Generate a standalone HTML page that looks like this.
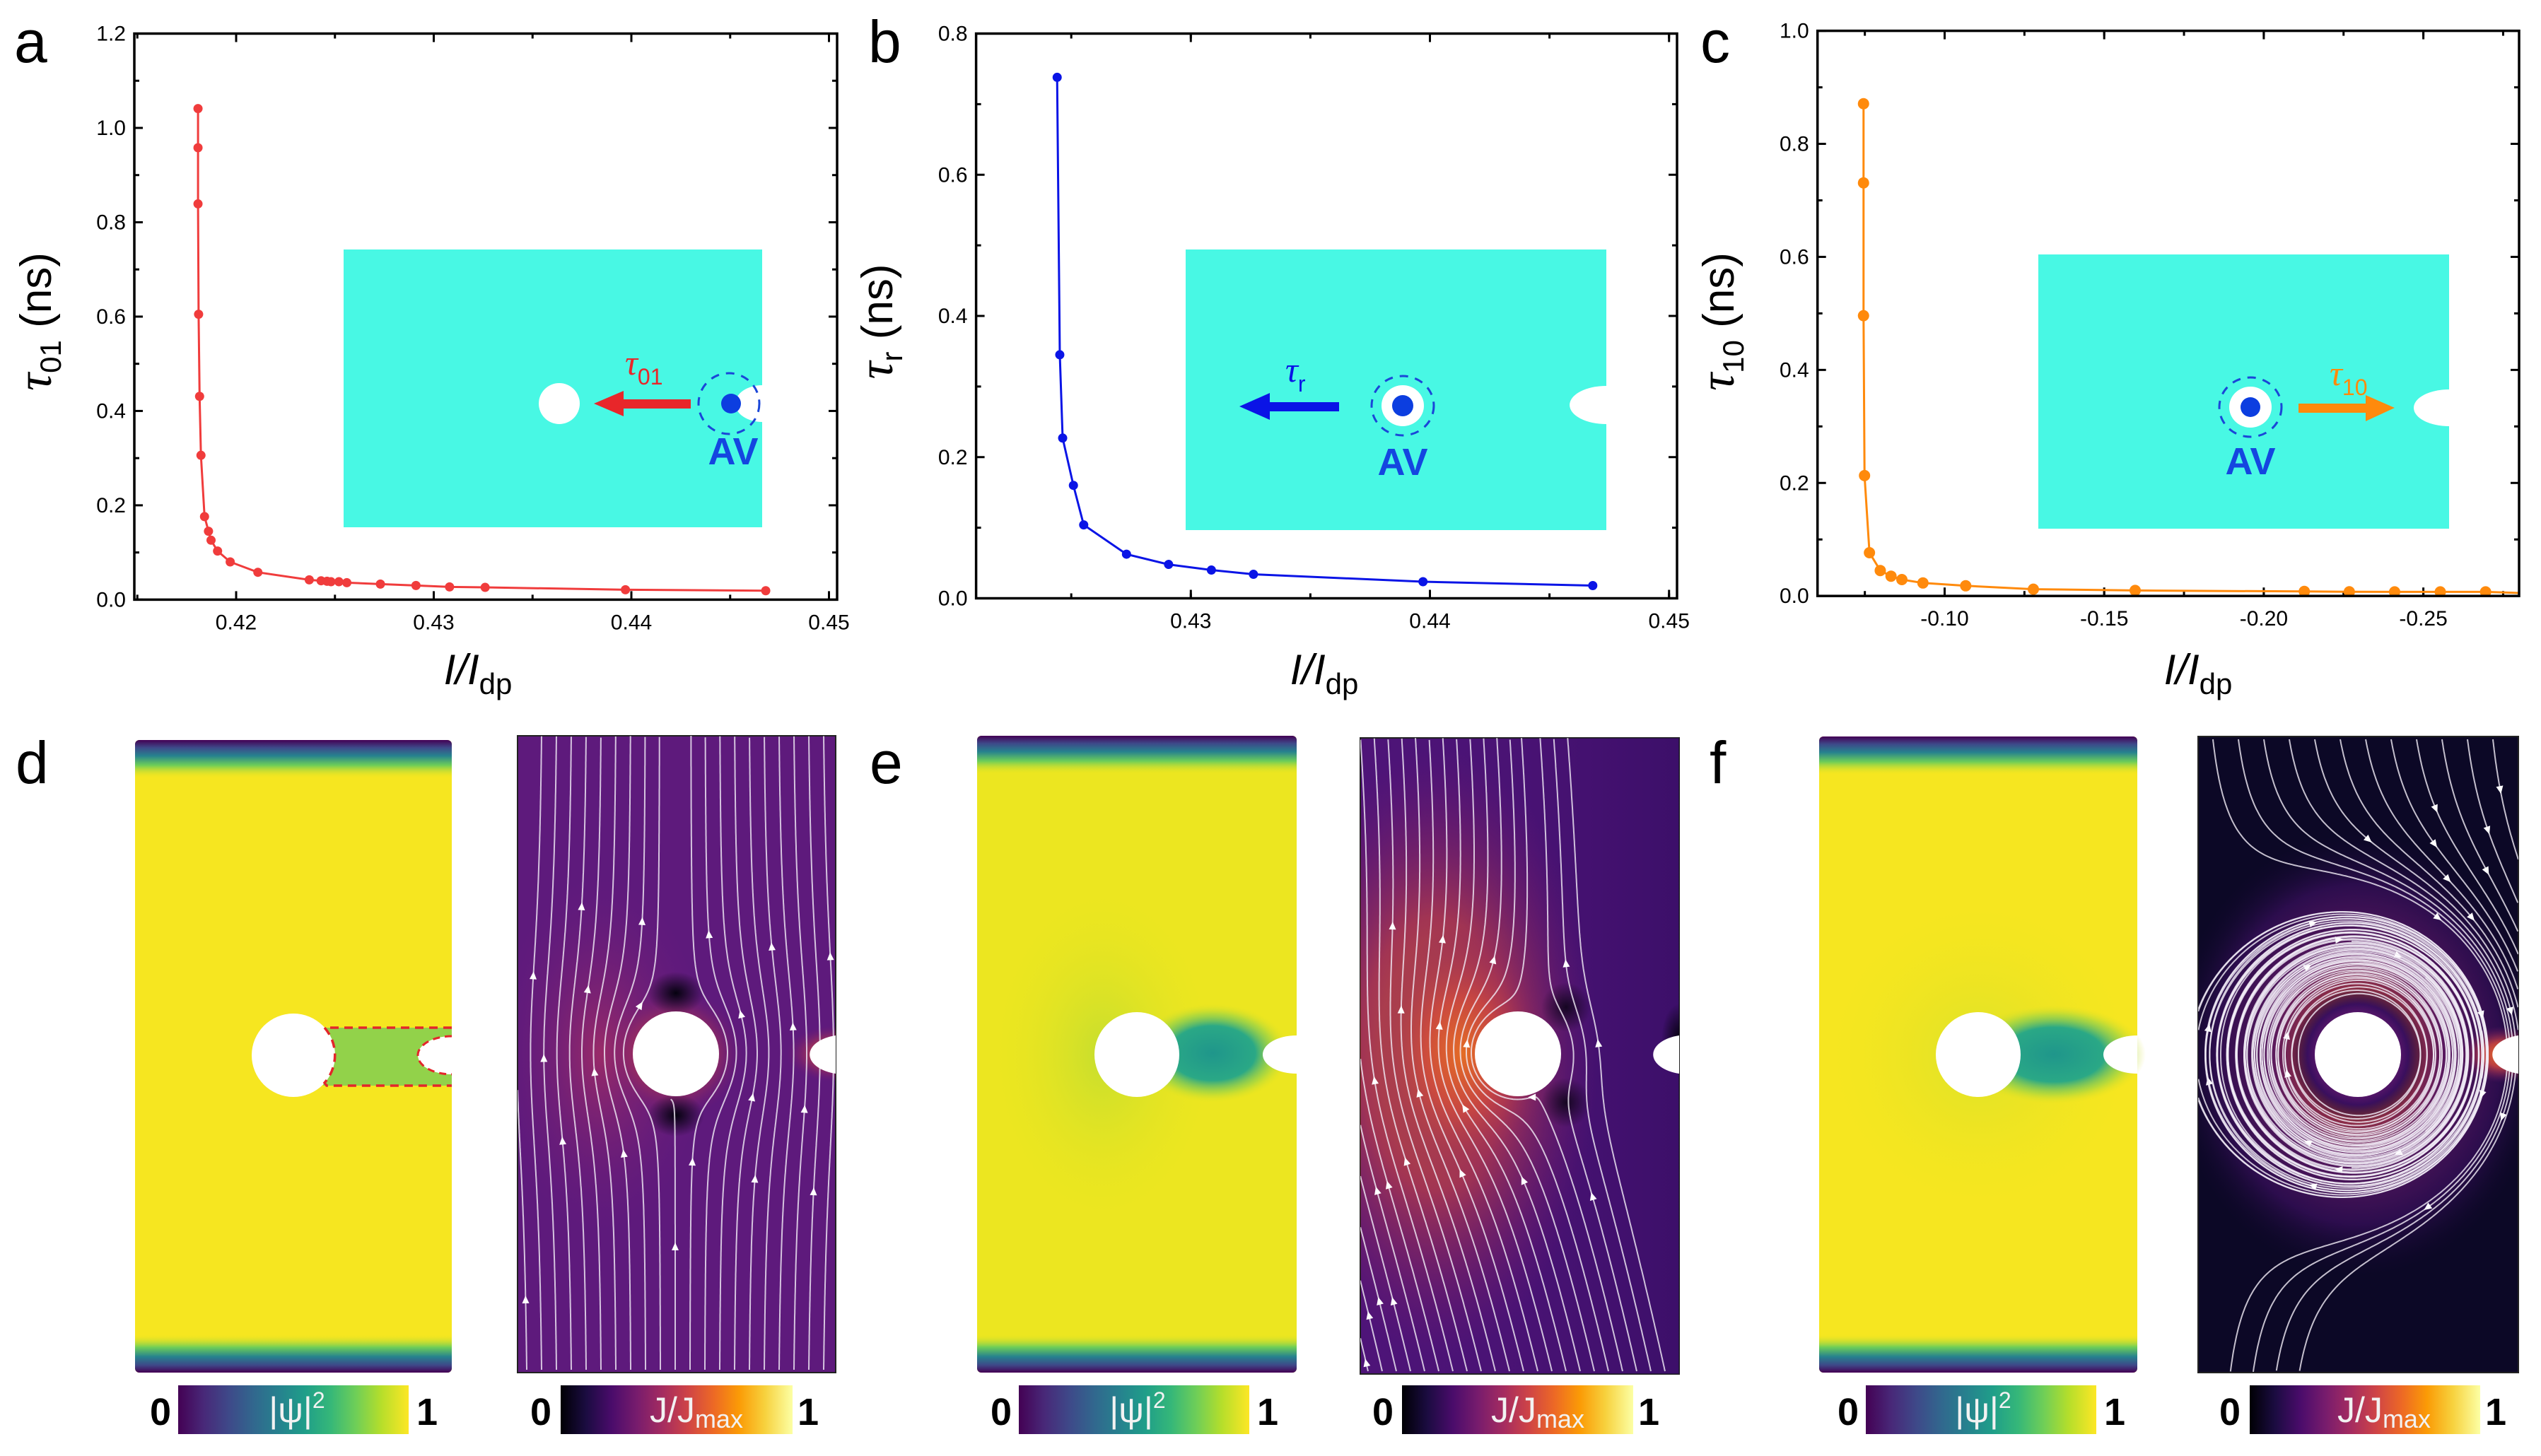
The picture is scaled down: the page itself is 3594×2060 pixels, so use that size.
<!DOCTYPE html>
<html><head><meta charset="utf-8"><style>
html,body{margin:0;padding:0;background:#fff;}
svg{display:block;font-family:"Liberation Sans",sans-serif;}
</style></head><body>
<svg id="fig" width="3594" height="2060" viewBox="0 0 3594 2060" xmlns="http://www.w3.org/2000/svg">
<defs>
<linearGradient id="viridis" x1="0" x2="1" y1="0" y2="0">
<stop offset="0" stop-color="#440154"/><stop offset="0.11" stop-color="#482878"/><stop offset="0.22" stop-color="#3e4989"/><stop offset="0.33" stop-color="#31688e"/><stop offset="0.44" stop-color="#26828e"/><stop offset="0.55" stop-color="#1f9e89"/><stop offset="0.66" stop-color="#35b779"/><stop offset="0.77" stop-color="#6ece58"/><stop offset="0.88" stop-color="#b5de2b"/><stop offset="1" stop-color="#fde725"/>
</linearGradient>
<linearGradient id="inferno" x1="0" x2="1" y1="0" y2="0">
<stop offset="0" stop-color="#000004"/><stop offset="0.11" stop-color="#1b0c41"/><stop offset="0.22" stop-color="#4a0c6b"/><stop offset="0.33" stop-color="#781c6d"/><stop offset="0.44" stop-color="#a52c60"/><stop offset="0.55" stop-color="#cf4446"/><stop offset="0.66" stop-color="#ed6925"/><stop offset="0.77" stop-color="#fb9b06"/><stop offset="0.88" stop-color="#f7d13d"/><stop offset="1" stop-color="#fcffa4"/>
</linearGradient>
<linearGradient id="psiEdge" x1="0" x2="0" y1="0" y2="1">
<stop offset="0" stop-color="#440154"/><stop offset="0.012" stop-color="#3e4989"/><stop offset="0.025" stop-color="#26828e"/><stop offset="0.04" stop-color="#6ece58"/><stop offset="0.06" stop-color="#e8e420" stop-opacity="0"/>
<stop offset="0.94" stop-color="#e8e420" stop-opacity="0"/><stop offset="0.96" stop-color="#6ece58"/><stop offset="0.975" stop-color="#26828e"/><stop offset="0.988" stop-color="#3e4989"/><stop offset="1" stop-color="#440154"/>
</linearGradient>
<linearGradient id="eShade" x1="0" x2="1" y1="0" y2="0">
<stop offset="0" stop-color="#2e0b5e" stop-opacity="0"/><stop offset="0.5" stop-color="#2e0b5e" stop-opacity="0.15"/><stop offset="1" stop-color="#2e0b5e" stop-opacity="0.55"/>
</linearGradient>
<radialGradient id="tealBlob"><stop offset="0" stop-color="#1f968b"/><stop offset="0.55" stop-color="#2aa886"/><stop offset="0.8" stop-color="#8fd14a" stop-opacity="0.6"/><stop offset="1" stop-color="#e0e222" stop-opacity="0"/></radialGradient>
<radialGradient id="greenGlow"><stop offset="0" stop-color="#9fd63c"/><stop offset="1" stop-color="#e6e41f" stop-opacity="0"/></radialGradient>
<radialGradient id="orangeGlow"><stop offset="0" stop-color="#f0751e"/><stop offset="0.45" stop-color="#d2473f" stop-opacity="0.85"/><stop offset="1" stop-color="#7a1a6e" stop-opacity="0"/></radialGradient>
<radialGradient id="redGlowD"><stop offset="0" stop-color="#c2365a"/><stop offset="1" stop-color="#6a1c7e" stop-opacity="0"/></radialGradient>
<radialGradient id="darkSpot"><stop offset="0" stop-color="#05020f"/><stop offset="1" stop-color="#05020f" stop-opacity="0"/></radialGradient>
<radialGradient id="fGlow"><stop offset="0" stop-color="#ff8a1a"/><stop offset="0.3" stop-color="#c43d55"/><stop offset="0.45" stop-color="#7a1f76"/><stop offset="0.75" stop-color="#3a0f5e"/><stop offset="1" stop-color="#0c0826" stop-opacity="0"/></radialGradient>
<clipPath id="clipA"><rect x="190" y="47" width="994" height="802"/></clipPath>
<clipPath id="clipB"><rect x="1380" y="47" width="992" height="800"/></clipPath>
<clipPath id="clipC"><rect x="2570" y="43" width="993" height="800"/></clipPath>
<clipPath id="clipDJ"><rect x="732" y="1041" width="450" height="901"/></clipPath>
<clipPath id="clipEJ"><rect x="1924" y="1044" width="451" height="900"/></clipPath>
<clipPath id="clipFJ"><rect x="3109" y="1042" width="453" height="900"/></clipPath>
</defs>

<text x="20" y="88" font-size="84">a</text>
<text x="1228" y="88" font-size="84">b</text>
<text x="2405" y="88" font-size="84">c</text>
<text x="22" y="1108" font-size="84">d</text>
<text x="1230" y="1108" font-size="84">e</text>
<text x="2418" y="1108" font-size="84">f</text>

<g>
<rect x="486" y="353" width="592" height="393" fill="#48f8e4"/>
<path d="M1078,545 A38,26 0 0 0 1078,597 Z" fill="#fff"/>
<ellipse cx="791" cy="571" rx="29" ry="29" fill="#fff"/>
<rect x="880" y="565" width="97" height="13" fill="#e8262a"/>
<polygon points="840,571 882,553 882,589" fill="#e8262a"/>
<text x="884" y="530" font-size="50" fill="#e8262a" font-family="Liberation Serif,serif" font-style="italic">τ<tspan font-size="32" dy="14" font-family="Liberation Sans,sans-serif" font-style="normal">01</tspan></text>
<circle cx="1031" cy="571" r="43" fill="none" stroke="#1a46d8" stroke-width="3" stroke-dasharray="12 10"/>
<circle cx="1034" cy="571" r="14" fill="#0c3ee0"/>
<text x="1037" y="657" font-size="54" font-weight="bold" fill="#1446e0" text-anchor="middle">AV</text>
</g>
<g>
<rect x="1677" y="353" width="595" height="397" fill="#48f8e4"/>
<path d="M2272,546 A50,26 0 0 0 2272,600 Z" fill="#fff"/>
<rect x="1795" y="569" width="99" height="13" fill="#0a14e6"/>
<polygon points="1753,575 1796,556 1796,594" fill="#0a14e6"/>
<text x="1818" y="540" font-size="50" fill="#0a14e6" font-family="Liberation Serif,serif" font-style="italic">τ<tspan font-size="32" dy="14" font-family="Liberation Sans,sans-serif" font-style="normal">r</tspan></text>
<ellipse cx="1984" cy="574" rx="44" ry="42" fill="none" stroke="#1a46d8" stroke-width="3" stroke-dasharray="12 10"/>
<ellipse cx="1984" cy="574" rx="30" ry="29" fill="#fff"/>
<circle cx="1984" cy="574" r="15" fill="#0c3ee0"/>
<text x="1984" y="672" font-size="54" font-weight="bold" fill="#1446e0" text-anchor="middle">AV</text>
</g>
<g>
<rect x="2883" y="360" width="581" height="388" fill="#48f8e4"/>
<path d="M3464,551 A50,26 0 0 0 3464,603 Z" fill="#fff"/>
<rect x="3251" y="571" width="97" height="13" fill="#ff8a0c"/>
<polygon points="3387,577 3346,559 3346,596" fill="#ff8a0c"/>
<text x="3295" y="545" font-size="50" fill="#ff8a0c" font-family="Liberation Serif,serif" font-style="italic">τ<tspan font-size="32" dy="14" font-family="Liberation Sans,sans-serif" font-style="normal">10</tspan></text>
<ellipse cx="3183" cy="576" rx="44" ry="42" fill="none" stroke="#1a46d8" stroke-width="3" stroke-dasharray="12 10"/>
<ellipse cx="3183" cy="576" rx="30" ry="29" fill="#fff"/>
<circle cx="3183" cy="576" r="14" fill="#0c3ee0"/>
<text x="3183" y="671" font-size="54" font-weight="bold" fill="#1446e0" text-anchor="middle">AV</text>
</g>

<g id="charts"></g>

<g>
<rect x="191" y="1047" width="448" height="895" rx="6" fill="#f6e620"/>
<rect x="191" y="1047" width="448" height="895" rx="6" fill="url(#psiEdge)"/>
<rect x="457" y="1454" width="182" height="82" fill="#92d24a"/>
<circle cx="415" cy="1493" r="59" fill="#fff"/>
<path d="M639,1466 A48,27 0 0 0 639,1520 Z" fill="#fff"/>
<path d="M639,1454 L459,1454 A59,59 0 0 1 459,1532 L462,1536 L639,1536" fill="none" stroke="#e3262a" stroke-width="3.5" stroke-dasharray="12 8"/>
<path d="M639,1466 A48,27 0 0 0 639,1520" fill="none" stroke="#e3262a" stroke-width="3" stroke-dasharray="10 7"/>
</g>
<g>
<rect x="1382" y="1041" width="452" height="901" rx="6" fill="#ece620"/>
<ellipse cx="1560" cy="1492" rx="160" ry="240" fill="url(#greenGlow)" opacity="0.5"/>
<ellipse cx="1715" cy="1490" rx="110" ry="70" fill="url(#tealBlob)"/>
<rect x="1382" y="1041" width="452" height="901" rx="6" fill="url(#psiEdge)"/>
<ellipse cx="1608" cy="1492" rx="60" ry="60" fill="#fff"/>
<path d="M1834,1465 A48,27 0 0 0 1834,1519 Z" fill="#fff"/>
</g>
<g>
<rect x="2573" y="1042" width="450" height="900" rx="6" fill="#f6e620"/>
<ellipse cx="2800" cy="1492" rx="220" ry="220" fill="url(#greenGlow)" opacity="0.3"/>
<ellipse cx="2905" cy="1492" rx="130" ry="70" fill="url(#tealBlob)"/>
<rect x="2573" y="1042" width="450" height="900" rx="6" fill="url(#psiEdge)"/>
<ellipse cx="2798" cy="1492" rx="60" ry="60" fill="#fff"/>
<path d="M3023,1465 A48,27 0 0 0 3023,1519 Z" fill="#fff"/>
</g>

<g>
<rect x="732" y="1041" width="450" height="901" fill="#5e1a7c" stroke="#222" stroke-width="2"/>
<g clip-path="url(#clipDJ)">
<ellipse cx="850" cy="1491" rx="150" ry="260" fill="url(#redGlowD)" opacity="0.6"/>
<ellipse cx="956" cy="1491" rx="95" ry="90" fill="url(#orangeGlow)" opacity="0.8"/>
<ellipse cx="956" cy="1405" rx="40" ry="30" fill="url(#darkSpot)"/>
<ellipse cx="956" cy="1578" rx="40" ry="30" fill="url(#darkSpot)"/>
<ellipse cx="1182" cy="1491" rx="70" ry="40" fill="url(#orangeGlow)" opacity="0.8"/>
<g id="slD"></g>
</g>
<ellipse cx="956" cy="1491" rx="61" ry="60" fill="#fff"/>
<path d="M1182,1465 A50,28 0 0 0 1182,1519 Z" fill="#fff"/>
</g>
<g>
<rect x="1924" y="1044" width="451" height="900" fill="#4e1478" stroke="#222" stroke-width="2"/>
<g clip-path="url(#clipEJ)">
<rect x="1924" y="1044" width="451" height="900" fill="url(#eShade)"/>
<ellipse cx="2030" cy="1491" rx="230" ry="430" fill="url(#orangeGlow)" opacity="0.75"/>
<ellipse cx="2070" cy="1491" rx="120" ry="180" fill="url(#orangeGlow)" opacity="0.8"/>
<ellipse cx="2215" cy="1425" rx="35" ry="35" fill="url(#darkSpot)" opacity="0.8"/>
<ellipse cx="2215" cy="1560" rx="35" ry="35" fill="url(#darkSpot)" opacity="0.8"/>
<ellipse cx="2375" cy="1470" rx="25" ry="50" fill="url(#darkSpot)"/>
<g id="slE"></g>
</g>
<ellipse cx="2147" cy="1491" rx="61" ry="60" fill="#fff"/>
<path d="M2375,1465 A50,28 0 0 0 2375,1519 Z" fill="#fff"/>
</g>
<g>
<rect x="3109" y="1042" width="453" height="900" fill="#0c0826" stroke="#222" stroke-width="2"/>
<g clip-path="url(#clipFJ)">
<ellipse cx="3335" cy="1492" rx="270" ry="320" fill="url(#fGlow)" opacity="0.7"/>
<ellipse cx="3335" cy="1492" rx="95" ry="95" fill="url(#fGlow)"/>
<ellipse cx="3540" cy="1492" rx="60" ry="40" fill="url(#orangeGlow)"/>
<g id="slF"></g>
</g>
<ellipse cx="3335" cy="1492" rx="61" ry="60" fill="#fff"/>
<path d="M3562,1465 A50,28 0 0 0 3562,1519 Z" fill="#fff"/>
</g>

<g>
<rect x="252" y="1960" width="326" height="69" fill="url(#viridis)"/>
<text x="227" y="2016" font-size="54" font-weight="bold" text-anchor="middle">0</text>
<text x="604" y="2016" font-size="54" font-weight="bold" text-anchor="middle">1</text>
<text x="420" y="2012" font-size="50" fill="#f2f2f2" text-anchor="middle">|ψ|<tspan font-size="32" dy="-20">2</tspan></text>
</g>
<g>
<rect x="793" y="1960" width="328" height="69" fill="url(#inferno)"/>
<text x="765" y="2016" font-size="54" font-weight="bold" text-anchor="middle">0</text>
<text x="1143" y="2016" font-size="54" font-weight="bold" text-anchor="middle">1</text>
<text x="985" y="2012" font-size="50" fill="#f2f2f2" text-anchor="middle">J/J<tspan font-size="36" dy="8">max</tspan></text>
</g>
<g>
<rect x="1441" y="1960" width="326" height="69" fill="url(#viridis)"/>
<text x="1416" y="2016" font-size="54" font-weight="bold" text-anchor="middle">0</text>
<text x="1793" y="2016" font-size="54" font-weight="bold" text-anchor="middle">1</text>
<text x="1609" y="2012" font-size="50" fill="#f2f2f2" text-anchor="middle">|ψ|<tspan font-size="32" dy="-20">2</tspan></text>
</g>
<g>
<rect x="1983" y="1960" width="327" height="69" fill="url(#inferno)"/>
<text x="1956" y="2016" font-size="54" font-weight="bold" text-anchor="middle">0</text>
<text x="2332" y="2016" font-size="54" font-weight="bold" text-anchor="middle">1</text>
<text x="2175" y="2012" font-size="50" fill="#f2f2f2" text-anchor="middle">J/J<tspan font-size="36" dy="8">max</tspan></text>
</g>
<g>
<rect x="2639" y="1960" width="326" height="69" fill="url(#viridis)"/>
<text x="2614" y="2016" font-size="54" font-weight="bold" text-anchor="middle">0</text>
<text x="2991" y="2016" font-size="54" font-weight="bold" text-anchor="middle">1</text>
<text x="2805" y="2012" font-size="50" fill="#f2f2f2" text-anchor="middle">|ψ|<tspan font-size="32" dy="-20">2</tspan></text>
</g>
<g>
<rect x="3182" y="1960" width="326" height="69" fill="url(#inferno)"/>
<text x="3154" y="2016" font-size="54" font-weight="bold" text-anchor="middle">0</text>
<text x="3530" y="2016" font-size="54" font-weight="bold" text-anchor="middle">1</text>
<text x="3372" y="2012" font-size="50" fill="#f2f2f2" text-anchor="middle">J/J<tspan font-size="36" dy="8">max</tspan></text>
</g>
</svg>
<script>
// ---- chart data ----
const xA = [0.41807,0.41807,0.41807,0.41810,0.41815,0.41822,0.4184,0.4186,0.41873,0.41906,0.4197,0.4211,0.4237,0.4243,0.4246,0.4248,0.4252,0.4256,0.4273,0.4291,0.4308,0.4326,0.4397,0.4468];
const yA = [1.041,0.958,0.839,0.605,0.431,0.306,0.176,0.145,0.126,0.103,0.080,0.058,0.042,0.040,0.039,0.038,0.038,0.036,0.033,0.030,0.027,0.026,0.021,0.019];
const xB = [0.42441,0.42452,0.42464,0.42509,0.42552,0.42731,0.42907,0.43086,0.43262,0.43971,0.44681];
const yB = [0.738,0.345,0.227,0.160,0.104,0.0625,0.048,0.040,0.034,0.0235,0.018];
const xC = [-0.07458,-0.07458,-0.07458,-0.0749,-0.07644,-0.07983,-0.0832,-0.0866,-0.0932,-0.1066,-0.1278,-0.1597,-0.2127,-0.2268,-0.241,-0.2553,-0.2695];
const yC = [0.871,0.731,0.496,0.213,0.0765,0.045,0.035,0.029,0.023,0.018,0.012,0.0098,0.008,0.0074,0.0073,0.0073,0.0073];
const yTicksA = ["0.0","0.2","0.4","0.6","0.8","1.0","1.2"];
const yTicksB = ["0.0","0.2","0.4","0.6","0.8"];
const yTicksC = ["0.0","0.2","0.4","0.6","0.8","1.0"];
const xTicksA = ["0.42","0.43","0.44","0.45"];
const xTicksB = ["0.43","0.44","0.45"];
const xTicksC = ["-0.10","-0.15","-0.20","-0.25"];

const NS="http://www.w3.org/2000/svg";
function el(tag,attrs,parent){const e=document.createElementNS(NS,tag);for(const k in attrs)e.setAttribute(k,attrs[k]);if(parent)parent.appendChild(e);return e;}
const charts=document.getElementById('charts');

function drawChart(cfg){
  const g=el('g',{},charts);
  
  
  const L=cfg.L,R=cfg.R,T=cfg.T,B=cfg.B;
  const sx=cfg.sx, sy=cfg.sy;
  for(let v=cfg.yMin; v<=cfg.yMax+1e-9; v+=cfg.yMinor){
    const y=sy(v); const major=Math.abs(Math.round(v/cfg.yMajor)*cfg.yMajor-v)<1e-6;
    const len=major?12:7;
    el('line',{x1:L,x2:L+len,y1:y,y2:y,stroke:'#000','stroke-width':3},g);
    el('line',{x1:R,x2:R-len,y1:y,y2:y,stroke:'#000','stroke-width':3},g);
  }
  cfg.yTicks.forEach(t=>{const v=parseFloat(t);const tx=el('text',{x:L-12,y:sy(v)+10,'font-size':30,'text-anchor':'end'},g);tx.textContent=t;
    
    });
  cfg.xMinorVals.forEach(v=>{const x=sx(v);if(x<L||x>R)return;
    el('line',{x1:x,x2:x,y1:B,y2:B-7,stroke:'#000','stroke-width':3},g);
    el('line',{x1:x,x2:x,y1:T,y2:T+7,stroke:'#000','stroke-width':3},g);});
  cfg.xTicks.forEach(t=>{const v=parseFloat(t);const x=sx(v);
    el('line',{x1:x,x2:x,y1:B,y2:B-12,stroke:'#000','stroke-width':3},g);
    el('line',{x1:x,x2:x,y1:T,y2:T+12,stroke:'#000','stroke-width':3},g);
    const tx=el('text',{x:x,y:B+42,'font-size':30,'text-anchor':'middle'},g);tx.textContent=t;
    
    });
  const sg=el('g',{'clip-path':cfg.clip},g);
  
  
  let d='';cfg.xs.forEach((v,i)=>{d+=(i?'L':'M')+sx(v).toFixed(1)+','+sy(cfg.ys[i]).toFixed(1);});
  if(cfg.extend){d+='L'+R+','+sy(cfg.ys[cfg.ys.length-1]-0.002).toFixed(1);}
  el('path',{d:d,fill:'none',stroke:cfg.color,'stroke-width':3},sg);
  cfg.xs.forEach((v,i)=>{const c=el('circle',{cx:sx(v),cy:sy(cfg.ys[i]),r:cfg.r,fill:cfg.color},sg);
    
    });
  el('rect',{x:L,y:T,width:R-L,height:B-T,fill:'none',stroke:'#000','stroke-width':3.5},g);
  const yt=el('text',{transform:`translate(${cfg.ytx},${cfg.yty}) rotate(-90)`,'font-size':62,'text-anchor':'middle'},g);
  yt.innerHTML='<tspan font-family="Liberation Serif,serif" font-style="italic" font-size="70">τ</tspan><tspan font-size="42" dy="14">'+cfg.sub+'</tspan><tspan dy="-14"> (ns)</tspan>';
  
  
  const xt=el('text',{x:cfg.xtx,y:968,'font-size':60,'text-anchor':'middle','font-style':'italic'},g);
  xt.innerHTML='I/I<tspan font-size="42" dy="14" font-style="normal">dp</tspan>';
  
  
}
function range(a,b,s){const r=[];for(let v=a;v<=b+1e-9;v+=s)r.push(v);return r;}

drawChart({name:'chart-a',L:190,R:1184,T:47.5,B:848.4,
  sx:v=>334+(v-0.42)*27950, sy:v=>848.4-v/1.2*800.9,
  yMin:0,yMax:1.2,yMajor:0.2,yMinor:0.1,yTicks:yTicksA,xTicks:xTicksA,xMinorVals:range(0.415,0.45,0.005),
  xs:xA,ys:yA,color:'#f03c3c',r:6.5,clip:'url(#clipA)',sub:'01',ytx:72,yty:455,xtx:676});
drawChart({name:'chart-b',L:1380.6,R:2372,T:47.5,B:846.5,
  sx:v=>1684.3+(v-0.43)*33820, sy:v=>846.5-v/0.8*799,
  yMin:0,yMax:0.8,yMajor:0.2,yMinor:0.1,yTicks:yTicksB,xTicks:xTicksB,xMinorVals:range(0.425,0.45,0.005),
  xs:xB,ys:yB,color:'#0a14e6',r:6.5,clip:'url(#clipB)',sub:'r',ytx:1262,yty:455,xtx:1873});
drawChart({name:'chart-c',L:2570.7,R:3563,T:43.6,B:843.2,
  sx:v=>2750.5+(-0.10-v)/0.05*225.7, sy:v=>843.2-v*799.6,
  yMin:0,yMax:1.0,yMajor:0.2,yMinor:0.1,yTicks:yTicksC,xTicks:xTicksC,xMinorVals:range(0.075,0.275,0.025).map(v=>-v),
  xs:xC,ys:yC,color:'#ff8a0c',r:8,clip:'url(#clipC)',sub:'10',ytx:2452,yty:455,xtx:3109,extend:true});

// ---- streamlines ----
function streams(gid,box,cx,cy,R,field,seeds,maxSteps,closed){
  const g=document.getElementById(gid);
  seeds.forEach((s,si)=>{
    [1,-1].forEach(dir=>{
      if(s.dirs && s.dirs.indexOf(dir)<0) return;
      let x=s[0],y=s[1];const pts=[[x,y]];
      for(let k=0;k<maxSteps;k++){
        let [u,v]=field(x-cx,y-cy);const m=Math.hypot(u,v)||1;
        x+=dir*3*u/m;y+=dir*3*v/m;
        if(x<box[0]||x>box[2]||y<box[1]||y>box[3])break;
        if(Math.hypot(x-cx,y-cy)<R+3)break;
        pts.push([x,y]);
        if(closed&&k>60&&Math.hypot(x-s[0],y-s[1])<3)break;
      }
      if(pts.length<5)return;
      const p=el('polyline',{points:pts.map(q=>q[0].toFixed(1)+','+q[1].toFixed(1)).join(' '),fill:'none',stroke:'#f2eef8','stroke-width':2,'stroke-opacity':0.8},g);
      
      
      const idx=Math.floor(pts.length*(0.25+((si*37)%50)/100));
      if(idx>2&&idx<pts.length-1){
        const a=pts[idx],b=pts[idx-2];
        let dx=(a[0]-b[0])*dir,dy=(a[1]-b[1])*dir;const m=Math.hypot(dx,dy)||1;dx/=m;dy/=m;
        const tip=[a[0]+dx*6,a[1]+dy*6],l=[a[0]-dx*5-dy*5,a[1]-dy*5+dx*5],r2=[a[0]-dx*5+dy*5,a[1]-dy*5-dx*5];
        const t=el('polygon',{points:[tip,l,r2].map(q=>q[0].toFixed(1)+','+q[1].toFixed(1)).join(' '),fill:'#fff'},g);
        
        
      }
    });
  });
}
function cyl(dx,dy,ux,uy,U,R){const r2=dx*dx+dy*dy;const dr=ux*dx+uy*dy;
  return [U*ux+U*R*R*(ux*r2-2*dr*dx)/(r2*r2), U*uy+U*R*R*(uy*r2-2*dr*dy)/(r2*r2)];}
// d
(function(){const seeds=[];for(let x=745;x<1180;x+=21)seeds.push(Object.assign([x,1938],{dirs:[1]}));
  streams('slD',[732,1041,1182,1942],956,1491,61,(dx,dy)=>cyl(dx,dy,0,-1,1,62),seeds,900,false);})();
// e
(function(){const seeds=[];for(let x=1935;x<2372;x+=20)seeds.push(Object.assign([x,1940],{dirs:[1]}));
  streams('slE',[1924,1044,2375,1944],2147,1491,61,(dx,dy)=>{const c=cyl(dx,dy,-0.15,-1,1,64);const r2=dx*dx+dy*dy;return [c[0]-40*dy/r2,c[1]+40*dx/r2];},seeds,900,false);})();
// f : vortex dominant near hole, uniform downward far away
(function(){const seeds=[];
  for(let x=3335-84;x>3112;x-=22)seeds.push([x,1492]);
  for(let x=3130;x<3560;x+=36)seeds.push(Object.assign([x,1046],{dirs:[1]}));
  const k=1/Math.pow(320,5);
  streams('slF',[3109,1042,3562,1942],3335,1492,61,(dx,dy)=>{const r2=dx*dx+dy*dy;
    return [-dy/r2, dx/r2 + k*r2*r2];},seeds,1600,true);})();
</script>
</body></html>
